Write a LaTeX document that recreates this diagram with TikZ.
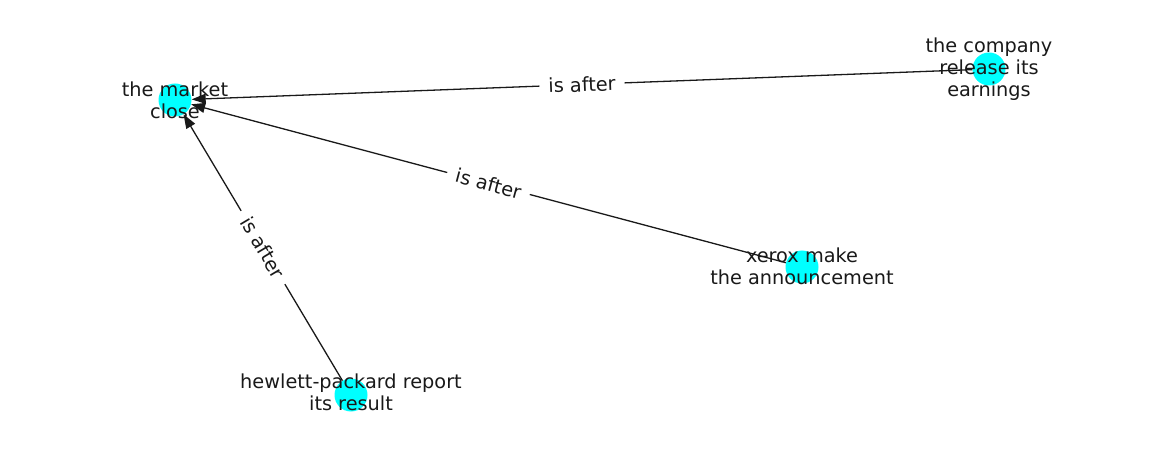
\documentclass[tikz,border=0pt]{standalone}
\usepackage{fontspec}
\setmainfont{DejaVu Sans}
\usetikzlibrary{arrows.meta}
\definecolor{nodecyan}{RGB}{0,255,255}
\definecolor{ink}{RGB}{25,25,25}
\begin{document}
\begin{tikzpicture}[x=1pt,y=-1pt,
  vert/.style={circle,fill=nodecyan,minimum size=33pt,inner sep=0pt},
  vlabel/.style={align=center,font=\fontsize{19.3}{22}\selectfont,text=ink},
  edge/.style={-{Triangle[length=14pt,width=10pt]},line width=1.3pt,draw=ink},
  elabel/.style={fill=white,font=\fontsize{19.3}{22}\selectfont,text=ink,sloped,inner xsep=9pt,inner ysep=2pt}]
\useasboundingbox (0,0) rectangle (1162,462);
\node[vert] (mc) at (175,100) {};
\node[vert] (co) at (989,69) {};
\node[vert] (xe) at (802,267) {};
\node[vert] (hp) at (351,395) {};
\draw[edge] (co) -- node[elabel] {is after} (mc);
\draw[edge] (xe) -- node[elabel] {is after} (mc);
\draw[edge] (hp) -- node[elabel] {is after} (mc);
\node[vlabel] (tmc) at (175,100) {the market\\close};
\node[vlabel] (tco) at (989,69) {the company\\release its\\earnings};
\node[vlabel] (txe) at (802,266) {xerox make\\the announcement};
\node[vlabel] (thp) at (351,392) {hewlett-packard report\\its result};
\end{tikzpicture}
\end{document}
